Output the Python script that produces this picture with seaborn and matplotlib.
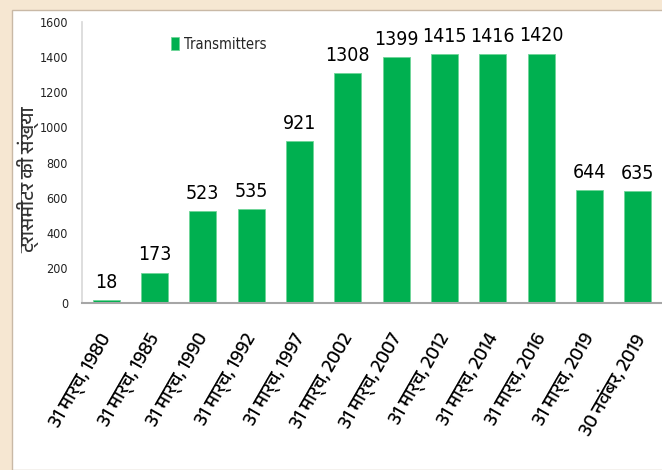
import matplotlib
matplotlib.use('Agg')
import matplotlib.pyplot as plt
from matplotlib import font_manager
from matplotlib.patches import Rectangle
from matplotlib.transforms import ScaledTranslation
import seaborn as sns
import pandas as pd

# data
dates = ['31 मार्च, 1980', '31 मार्च, 1985', '31 मार्च, 1990', '31 मार्च, 1992',
         '31 मार्च, 1997', '31 मार्च, 2002', '31 मार्च, 2007', '31 मार्च, 2012',
         '31 मार्च, 2014', '31 मार्च, 2016', '31 मार्च, 2019', '30 नवंबर, 2019']
transmitters = [18, 173, 523, 535, 921, 1308, 1399, 1415, 1416, 1420, 644, 635]
y_ticks = [0, 200, 400, 600, 800, 1000, 1200, 1400, 1600]
series_name = 'Transmitters'
y_label = 'ट्रासमीटर की संख्या'

GREEN = '#00b050'

sns.set_theme(style='white')

# pick fonts that are actually installed
names = {f.name for f in font_manager.fontManager.ttflist}
deva = [n for n in sorted(names)
        if any(k in n for k in ('Devanagari', 'Lohit', 'Mangal', 'FreeSans', 'Gargi', 'Kalimati'))]
hindi_fonts = deva[:1] + ['Liberation Sans', 'DejaVu Sans']
plt.rcParams['font.family'] = hindi_fonts

# narrow font for numbers and legend (reference uses a condensed face)
cond_path = font_manager.findfont(font_manager.FontProperties(family='DejaVu Sans', stretch='condensed'))
has_cond = 'Condensed' in cond_path
narrow = {'family': 'DejaVu Sans', 'stretch': 'condensed'}
scale = 1.0 if has_cond else 0.9

df = pd.DataFrame({'date': dates, 'count': transmitters})

fig = plt.figure(figsize=(6.62, 4.70), dpi=100)
fig.patch.set_facecolor('#f6e7d2')
fig.patches.append(Rectangle((12 / 662, 0), 1, (470 - 10) / 470, transform=fig.transFigure,
                             facecolor='white', edgecolor='#c9b9a6', linewidth=1.0, zorder=-5))

ax = fig.add_axes([82 / 662, (470 - 303) / 470, 1 - 82 / 662, (303 - 22) / 470])
ax.set_zorder(2)
ax.set_facecolor('white')

sns.barplot(data=df, x='date', y='count', color=GREEN, width=0.56,
            edgecolor='#6fd598', linewidth=0.6, saturation=1, label=series_name, ax=ax)

ax.set_xlim(-0.5, 11.5)
ax.set_ylim(0, 1600)
ax.set_yticks(y_ticks)
ax.set_yticklabels([str(t) for t in y_ticks], fontsize=9 * scale, color='#222222', **narrow)
ax.tick_params(axis='y', length=0, pad=10)
ax.tick_params(axis='x', length=0, pad=20)
ax.set_xticks(range(len(dates)))
ax.set_xticklabels(dates, rotation=60, ha='right', rotation_mode='anchor',
                   fontsize=14, color='black', family=hindi_fonts)
shift = ScaledTranslation(-6 / 100, 0, fig.dpi_scale_trans)
for lbl in ax.get_xticklabels():
    lbl.set_transform(lbl.get_transform() + shift)

ax.set_xlabel('')
ax.set_ylabel(y_label, fontsize=14, color='#333333', family=hindi_fonts)
ax.yaxis.label.set_va('center')
ax.yaxis.set_label_coords(-0.093, 0.44)

for side in ('top', 'right'):
    ax.spines[side].set_visible(False)
ax.spines['left'].set_color('#d9d9d9')
ax.spines['bottom'].set_color('#a6a6a6')
ax.spines['bottom'].set_linewidth(1.5)

ax.bar_label(ax.containers[0], padding=6, fontsize=14 * scale, color='black', **narrow)

ax.legend(loc='upper left', bbox_to_anchor=(0.13, 0.995), frameon=False,
          handlelength=0.6, handleheight=1.0, handletextpad=0.3,
          prop={**narrow, 'size': 10.5 * scale})

fig.savefig('out.png', dpi=100, facecolor=fig.get_facecolor())
